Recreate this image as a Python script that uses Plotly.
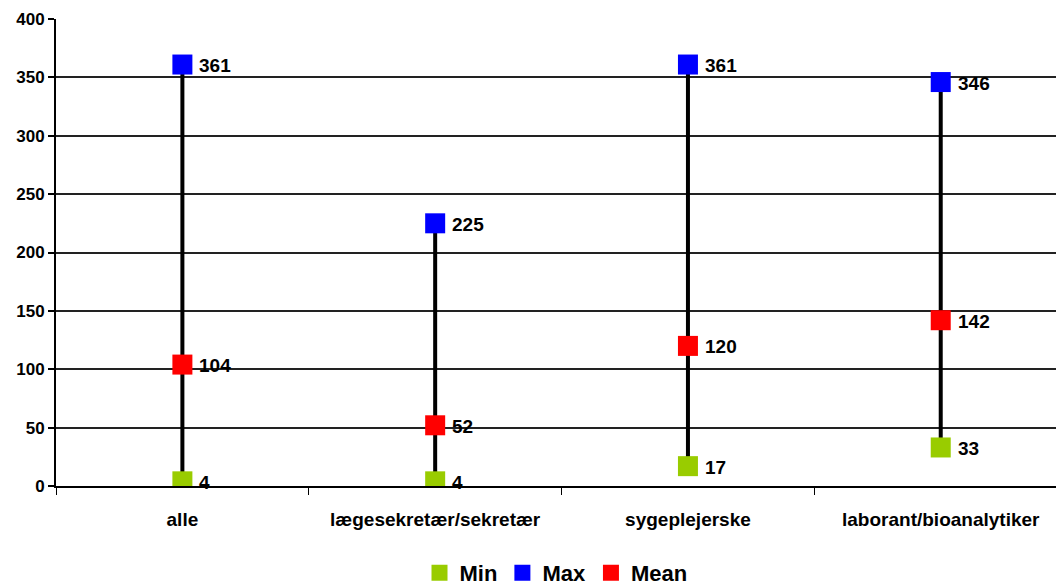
import plotly.graph_objects as go

categories = ["alle", "lægesekretær/sekretær", "sygeplejerske", "laborant/bioanalytiker"]
min_vals = [4, 4, 17, 33]
max_vals = [361, 225, 361, 346]
mean_vals = [104, 52, 120, 142]

FONT = "Liberation Sans, Arial, sans-serif"

fig = go.Figure()

# vertical range lines (min -> max) per category
line_x, line_y = [], []
for c, lo, hi in zip(categories, min_vals, max_vals):
    line_x += [c, c, None]
    line_y += [lo, hi, None]
fig.add_trace(go.Scatter(x=line_x, y=line_y, mode="lines",
                         line=dict(color="black", width=4),
                         showlegend=False, hoverinfo="skip"))

series = [("Min", min_vals, "#99CC00"),
          ("Max", max_vals, "#0000FF"),
          ("Mean", mean_vals, "#FF0000")]

for name, vals, color in series:
    fig.add_trace(go.Scatter(x=categories, y=vals, mode="markers", name=name,
                             marker=dict(symbol="square", size=20, color=color,
                                         line=dict(width=0))))
    for c, v in zip(categories, vals):
        fig.add_annotation(x=c, y=v, text=str(v), showarrow=False,
                           xanchor="left", yanchor="middle", xshift=15, yshift=-1,
                           font=dict(family=FONT, size=19, color="black", weight="bold"))

fig.update_layout(
    width=1056, height=585,
    margin=dict(l=56, r=0, t=19, b=99, autoexpand=False),
    plot_bgcolor="white", paper_bgcolor="white",
    font=dict(family=FONT, color="black"),
    legend=dict(orientation="h", x=0.5, xanchor="center", y=-0.186, yanchor="middle",
                font=dict(family=FONT, size=22, weight="bold"),
                itemsizing="trace", tracegroupgap=0, itemwidth=30),
)

fig.update_xaxes(
    type="category", range=[-0.5, 3.456],
    showgrid=False, showline=True, linecolor="black", linewidth=2,
    ticks="outside", tickson="boundaries", ticklen=7, tickcolor="black", tickwidth=1,
    tickfont=dict(family=FONT, size=19, weight="bold"),
    ticklabelstandoff=15,
    zeroline=False,
)
fig.update_yaxes(
    range=[0, 400], dtick=50,
    showgrid=True, gridcolor="#222222", gridwidth=1.5,
    showline=True, linecolor="black", linewidth=2,
    ticks="outside", ticklen=6, tickcolor="black", tickwidth=1.5,
    tickfont=dict(family=FONT, size=17, weight="bold"),
    zeroline=False,
)

fig.write_html("out.html")
